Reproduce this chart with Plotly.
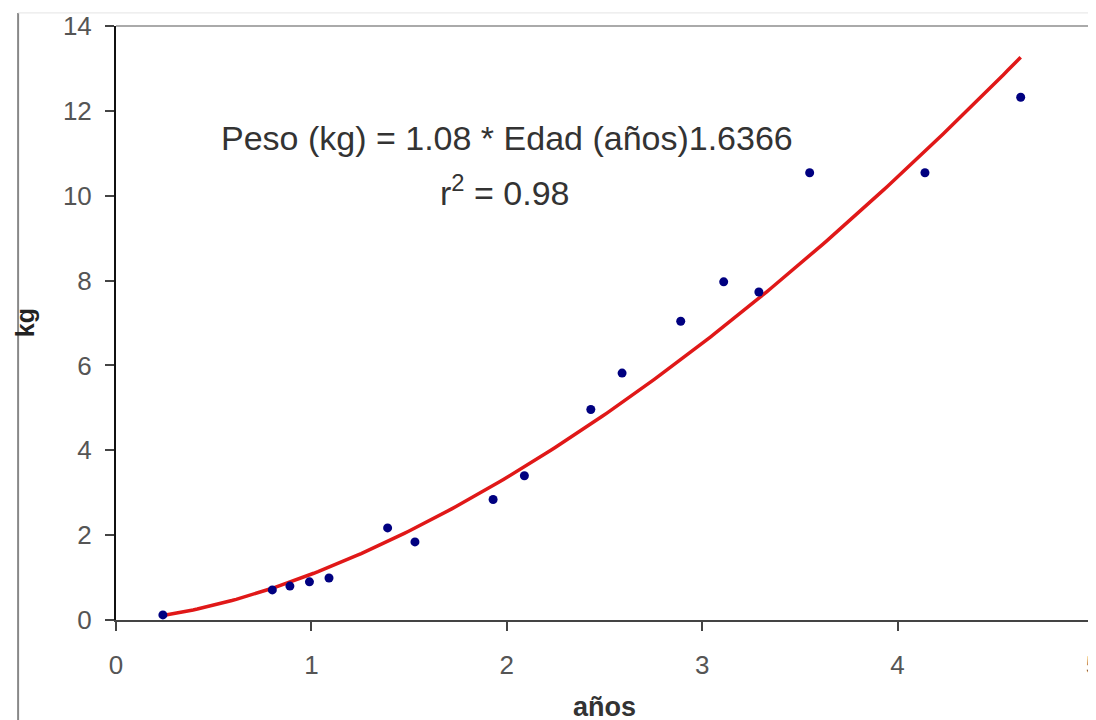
import numpy as np
import plotly.graph_objects as go

# Observed data (edad en años, peso en kg)
edad_anos = [0.24, 0.80, 0.89, 0.99, 1.09, 1.39, 1.53, 1.93, 2.09, 2.43,
             2.59, 2.89, 3.11, 3.29, 3.55, 4.14, 4.63]
peso_kg = [0.12, 0.71, 0.80, 0.90, 0.99, 2.17, 1.84, 2.84, 3.40, 4.96,
           5.82, 7.04, 7.97, 7.73, 10.54, 10.54, 12.32]

# Power trendline coefficients shown on the chart
coef_a = 1.08
coef_b = 1.6366
x_ticks = [0, 1, 2, 3, 4, 5]
y_ticks = [0, 2, 4, 6, 8, 10, 12, 14]

x_fit = np.linspace(min(edad_anos), max(edad_anos), 200)
y_fit = coef_a * x_fit ** coef_b

FONT = "Liberation Sans, Arial"

fig = go.Figure()
fig.add_trace(go.Scatter(x=x_fit, y=y_fit, mode="lines",
                         line=dict(color="#e01818", width=3.5),
                         hoverinfo="skip", showlegend=False))
fig.add_trace(go.Scatter(x=edad_anos, y=peso_kg, mode="markers",
                         marker=dict(color="#000080", size=9),
                         showlegend=False))

fig.add_annotation(x=2.0, y=11.36, xref="x", yref="y", showarrow=False,
                   text="Peso (kg) = 1.08 * Edad (años)1.6366",
                   font=dict(family=FONT, size=34, color="#333333"),
                   xanchor="center", yanchor="middle")
fig.add_annotation(x=1.99, y=10.13, xref="x", yref="y", showarrow=False,
                   text="r<sup>2</sup> = 0.98",
                   font=dict(family=FONT, size=34, color="#333333"),
                   xanchor="center", yanchor="middle")
# axis titles
fig.add_annotation(x=0.5, y=-0.147, xref="paper", yref="paper", showarrow=False,
                   text="<b>años</b>", font=dict(family=FONT, size=27, color="#333333"),
                   xanchor="center", yanchor="middle")
fig.add_annotation(x=-0.093, y=0.5, xref="paper", yref="paper", showarrow=False,
                   text="<b>kg</b>", textangle=-90,
                   font=dict(family=FONT, size=25, color="#222222"),
                   xanchor="center", yanchor="middle")

axis_font = dict(family=FONT, size=26, color="#555555")
fig.update_layout(
    width=1088, height=712,
    margin=dict(l=108, r=3, t=18, b=100),
    paper_bgcolor="white", plot_bgcolor="white",
    xaxis=dict(range=[0, 5], tickvals=x_ticks, showgrid=False, zeroline=False,
               showline=True, linecolor="#444444", linewidth=2,
               ticks="outside", ticklen=9, tickcolor="#444444", tickwidth=2,
               tickfont=axis_font, ticklabelstandoff=12, automargin=False,
               ticklabeloverflow="allow"),
    yaxis=dict(range=[0, 14], tickvals=y_ticks, showgrid=False, zeroline=False,
               showline=True, linecolor="#111111", linewidth=2,
               ticks="outside", ticklen=9, tickcolor="#444444", tickwidth=2,
               tickfont=axis_font, ticklabelstandoff=8, automargin=False,
               ticklabeloverflow="allow"),
    shapes=[
        # plot area border (top and right)
        dict(type="line", xref="paper", yref="paper", x0=0, x1=1, y0=1, y1=1,
             line=dict(color="#aaaaaa", width=2)),
        dict(type="line", xref="paper", yref="paper", x0=1, x1=1, y0=0, y1=1,
             line=dict(color="#aaaaaa", width=2)),
        # outer chart frame (left and top)
        dict(type="line", xref="paper", yref="paper", x0=-0.1002, x1=-0.1002, y0=-0.17, y1=1.022,
             line=dict(color="#888888", width=2)),
        dict(type="line", xref="paper", yref="paper", x0=-0.1002, x1=1.0, y0=1.022, y1=1.022,
             line=dict(color="#e4e4e4", width=1)),
    ],
)

fig.write_html("out.html")
